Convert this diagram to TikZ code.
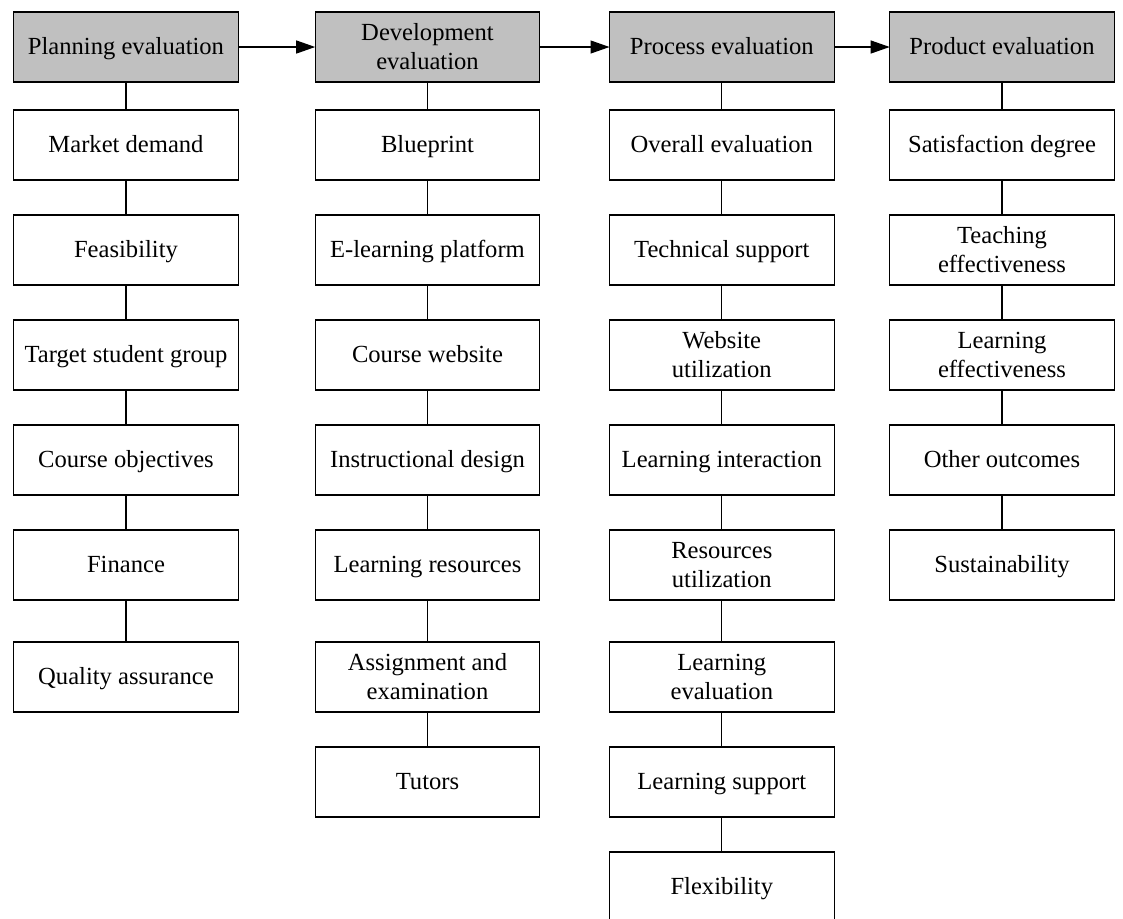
\documentclass[tikz,border=0pt]{standalone}
\usepackage{fontspec}
\setmainfont{Liberation Serif}
\usepackage{tikz}
\usetikzlibrary{arrows.meta,positioning}
\definecolor{headgray}{RGB}{192,192,192}

\tikzset{
    cell/.style={draw,rectangle,line width=0.6pt,outer sep=0pt,
        minimum width=112.3pt,minimum height=35pt,inner sep=0pt,align=center,
        font=\fontsize{12.3}{14.5}\selectfont},
    box/.style={cell,text height=10pt,text depth=2.5pt},
    box2/.style={cell},
    head/.style={fill=headgray},
    link/.style={draw,line width=0.6pt,black},
    flow/.style={link,-{Triangle[length=9.5pt,width=6.5pt]}}
}

\begin{document}
\begin{tikzpicture}[node distance=17.5pt]
    \useasboundingbox (-63pt,23.5pt) rectangle (498.5pt,-435.5pt);
    % stage headers
    \node[box,head] (p0) at (0,0) {Planning evaluation};
    \node[box2,head,right=38.45pt of p0] (d0) {Development\\evaluation};
    \node[box,head,right=34.85pt of d0] (r0) {Process evaluation};
    \node[box,head,right=27.8pt of r0] (o0) {Product evaluation};

    % planning
    \node[box,below=14pt of p0] (p1) {Market demand};
    \node[box,below=of p1] (p2) {Feasibility};
    \node[box,below=of p2] (p3) {Target student group};
    \node[box,below=of p3] (p4) {Course objectives};
    \node[box,below=of p4] (p5) {Finance};
    \node[box,below=21pt of p5] (p6) {Quality assurance};

    % development
    \node[box,below=14pt of d0] (d1) {Blueprint};
    \node[box,below=of d1] (d2) {E-learning platform};
    \node[box,below=of d2] (d3) {Course website};
    \node[box,below=of d3] (d4) {Instructional design};
    \node[box,below=of d4] (d5) {Learning resources};
    \node[box2,below=21pt of d5] (d6) {Assignment and\\examination};
    \node[box,below=of d6] (d7) {Tutors};

    % process
    \node[box,below=14pt of r0] (r1) {Overall evaluation};
    \node[box,below=of r1] (r2) {Technical support};
    \node[box2,below=of r2] (r3) {Website\\utilization};
    \node[box,below=of r3] (r4) {Learning interaction};
    \node[box2,below=of r4] (r5) {Resources\\utilization};
    \node[box2,below=21pt of r5] (r6) {Learning\\evaluation};
    \node[box,below=of r6] (r7) {Learning support};
    \node[box,below=of r7] (r8) {Flexibility};

    % product
    \node[box,below=14pt of o0] (o1) {Satisfaction degree};
    \node[box2,below=of o1] (o2) {Teaching\\effectiveness};
    \node[box2,below=of o2] (o3) {Learning\\effectiveness};
    \node[box,below=of o3] (o4) {Other outcomes};
    \node[box,below=of o4] (o5) {Sustainability};

    \draw[flow] (p0) -- (d0);
    \draw[flow] (d0) -- (r0);
    \draw[flow] (r0) -- (o0);

    \draw[link] (p0) -- (p1);
    \draw[link] (p1) -- (p2);
    \draw[link] (p2) -- (p3);
    \draw[link] (p3) -- (p4);
    \draw[link] (p4) -- (p5);
    \draw[link] (p5) -- (p6);

    \draw[link] (d0) -- (d1);
    \draw[link] (d1) -- (d2);
    \draw[link] (d2) -- (d3);
    \draw[link] (d3) -- (d4);
    \draw[link] (d4) -- (d5);
    \draw[link] (d5) -- (d6);
    \draw[link] (d6) -- (d7);

    \draw[link] (r0) -- (r1);
    \draw[link] (r1) -- (r2);
    \draw[link] (r2) -- (r3);
    \draw[link] (r3) -- (r4);
    \draw[link] (r4) -- (r5);
    \draw[link] (r5) -- (r6);
    \draw[link] (r6) -- (r7);
    \draw[link] (r7) -- (r8);

    \draw[link] (o0) -- (o1);
    \draw[link] (o1) -- (o2);
    \draw[link] (o2) -- (o3);
    \draw[link] (o3) -- (o4);
    \draw[link] (o4) -- (o5);
\end{tikzpicture}
\end{document}
